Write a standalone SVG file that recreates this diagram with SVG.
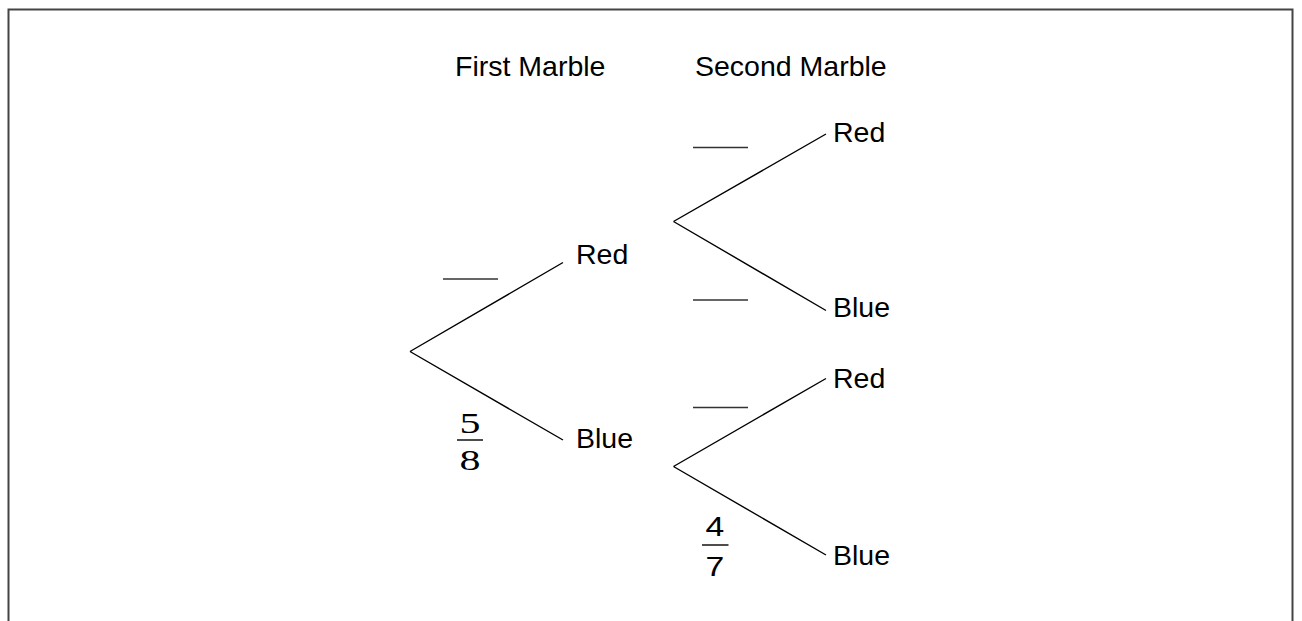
<svg xmlns="http://www.w3.org/2000/svg" width="1302" height="621" viewBox="0 0 1302 621">
<style>
.lbl{font-family:"Liberation Sans",Arial,sans-serif;font-size:28.5px;fill:#000}
.frac{font-family:"Liberation Serif","Times New Roman",serif;font-size:30px;fill:#000}
.fracs{font-family:"Liberation Sans",Arial,sans-serif;font-size:27px;fill:#000}
.br{stroke:#000;stroke-width:1.4;fill:none}
.blank{stroke:#333;stroke-width:1.4;fill:none}
</style>
<rect x="0" y="0" width="1302" height="621" fill="#fff"/>
<path d="M8.5,630 V9.5 H1292.5 V630" fill="none" stroke="#444" stroke-width="2"/>
<g id="headers">
<text class="lbl" x="455" y="76">First Marble</text>
<text class="lbl" x="695" y="76">Second Marble</text>
</g>
<g id="connectors">
<path class="br" d="M410,351.5 L563,262.5 M410,351.5 L563,440"/>
<path class="br" d="M673.5,221.5 L826,134 M673.5,221.5 L826,310.5"/>
<path class="br" d="M673.5,466.5 L826,378.5 M673.5,466.5 L826,555"/>
</g>
<g id="blanks">
<line class="blank" x1="443" y1="279" x2="498" y2="279"/>
<line class="blank" x1="693" y1="147.5" x2="748" y2="147.5"/>
<line class="blank" x1="693" y1="300" x2="748" y2="300"/>
<line class="blank" x1="693" y1="407.5" x2="748" y2="407.5"/>
</g>
<g id="node-red1"><text class="lbl" x="576" y="264">Red</text></g>
<g id="node-blue1"><text class="lbl" x="576" y="448">Blue</text></g>
<g id="node-red-red"><text class="lbl" x="833" y="142">Red</text></g>
<g id="node-red-blue"><text class="lbl" x="833" y="317">Blue</text></g>
<g id="node-blue-red"><text class="lbl" x="833" y="388">Red</text></g>
<g id="node-blue-blue"><text class="lbl" x="833" y="565">Blue</text></g>
<g id="frac-5-8">
<text class="frac" transform="translate(470,0) scale(1.4,1)" x="0" y="433.5" text-anchor="middle">5</text>
<line x1="457" y1="440" x2="483" y2="440" stroke="#000" stroke-width="1.4"/>
<text class="frac" transform="translate(470,0) scale(1.4,1)" x="0" y="470.5" text-anchor="middle">8</text>
</g>
<g id="frac-4-7">
<text class="fracs" transform="translate(715,0) scale(1.25,1)" x="0" y="536.5" text-anchor="middle">4</text>
<line x1="702" y1="545" x2="728.5" y2="545" stroke="#000" stroke-width="1.4"/>
<text class="fracs" transform="translate(715,0) scale(1.25,1)" x="0" y="576.5" text-anchor="middle">7</text>
</g>
</svg>
